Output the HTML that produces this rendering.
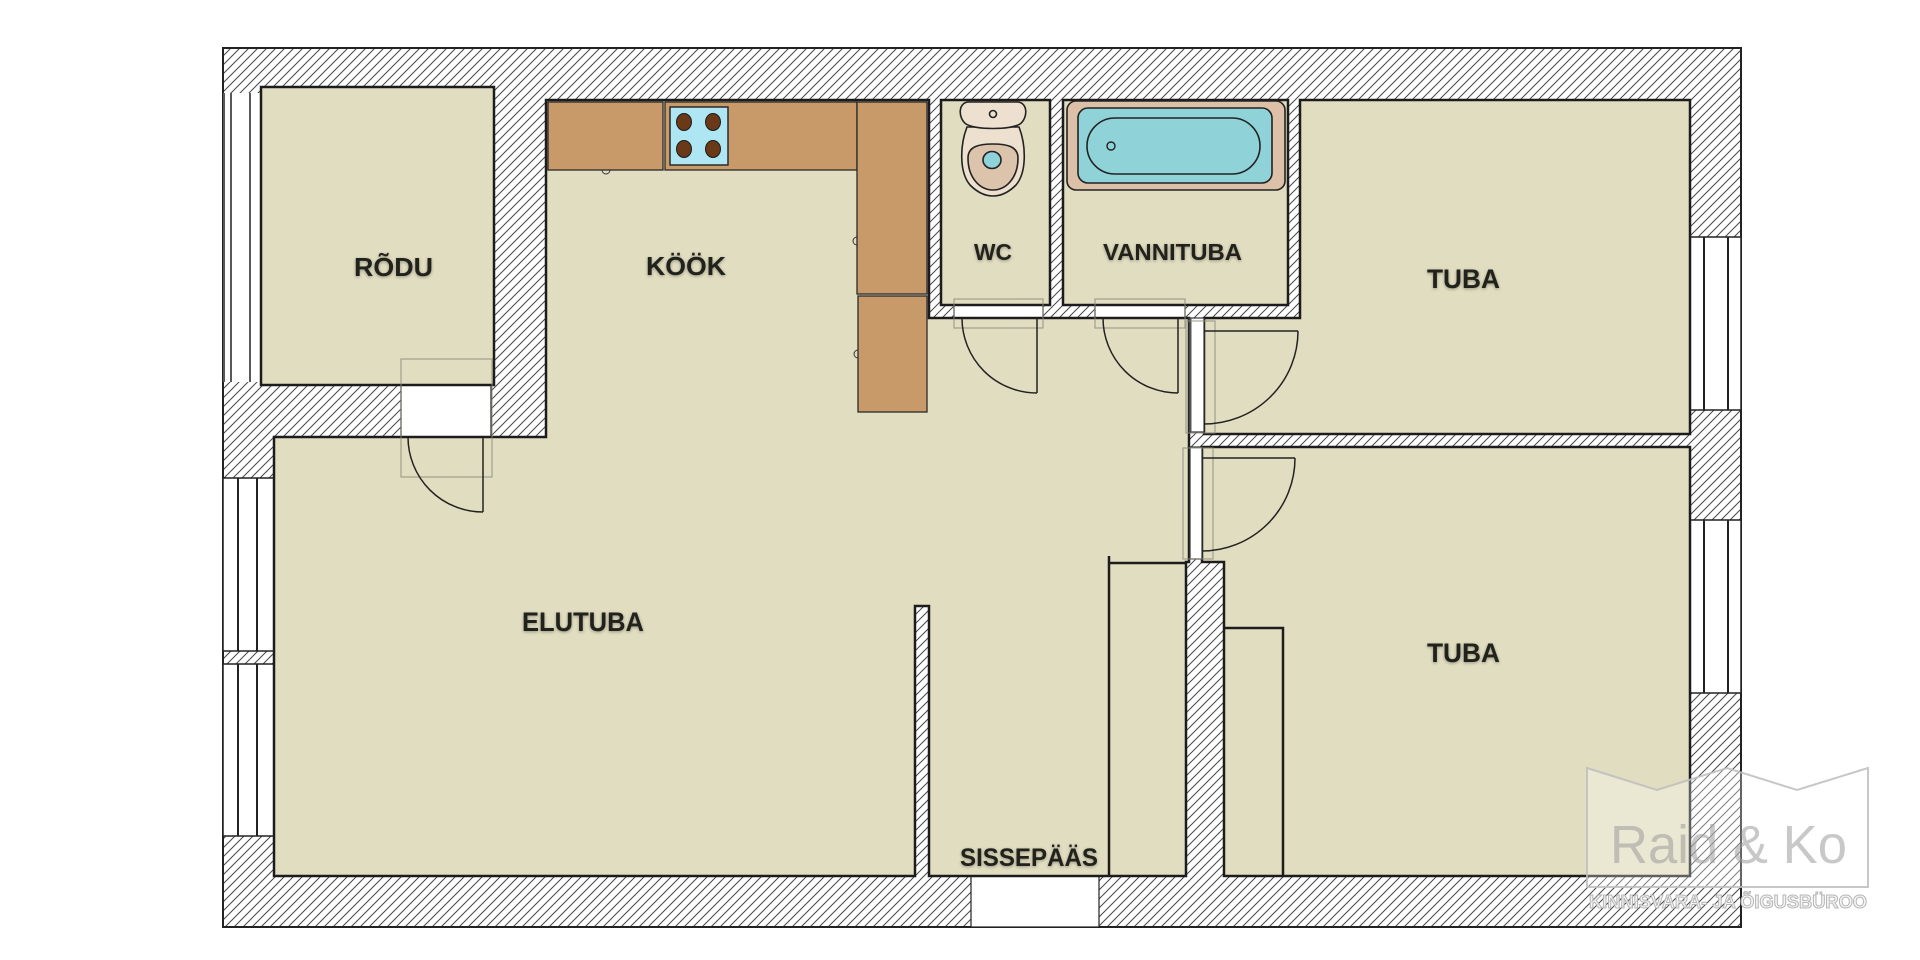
<!DOCTYPE html>
<html><head><meta charset="utf-8"><style>
html,body{margin:0;padding:0;background:#fff;}
svg{display:block;}
.lbl{font-family:"Liberation Sans",sans-serif;font-weight:bold;fill:#23231d;}
</style></head><body>
<svg width="1920" height="960" viewBox="0 0 1920 960" xmlns="http://www.w3.org/2000/svg">
<defs>
<pattern id="h" width="9" height="9" patternUnits="userSpaceOnUse">
<rect width="9" height="9" fill="#fff"/>
<path d="M-2,2 L2,-2 M0,9 L9,0 M7,11 L11,7" stroke="#474747" stroke-width="1"/>
</pattern>
<filter id="sh" x="-10%" y="-30%" width="120%" height="160%">
<feGaussianBlur in="SourceAlpha" stdDeviation="1.6"/>
<feOffset dx="0" dy="1" result="b"/>
<feComponentTransfer><feFuncA type="linear" slope="0.35"/></feComponentTransfer>
<feMerge><feMergeNode/><feMergeNode in="SourceGraphic"/></feMerge>
</filter>
</defs>

<!-- outer hatched shell -->
<rect x="223" y="48" width="1518" height="879" fill="url(#h)" stroke="#222" stroke-width="2"/>

<!-- windows -->
<rect x="223" y="93" width="38" height="289" fill="#fff"/>
<line x1="224" y1="93" x2="224" y2="382" stroke="#222" stroke-width="1.5"/>
<line x1="231" y1="93" x2="231" y2="382" stroke="#222" stroke-width="1.5"/>
<line x1="250" y1="93" x2="250" y2="382" stroke="#222" stroke-width="1.5"/>

<g fill="#fff" stroke="#222" stroke-width="1.5">
<rect x="223" y="478" width="51" height="173"/>
<rect x="223" y="664" width="51" height="172"/>
<rect x="1690" y="237" width="51" height="173"/>
<rect x="1690" y="520" width="51" height="173"/>
</g>
<g stroke="#222" stroke-width="2">
<line x1="238" y1="478" x2="238" y2="651"/><line x1="257" y1="478" x2="257" y2="651"/>
<line x1="238" y1="664" x2="238" y2="836"/><line x1="257" y1="664" x2="257" y2="836"/>
<line x1="1704" y1="237" x2="1704" y2="410"/><line x1="1728" y1="237" x2="1728" y2="410"/>
<line x1="1704" y1="520" x2="1704" y2="693"/><line x1="1728" y1="520" x2="1728" y2="693"/>
</g>

<!-- door openings (white) -->
<g fill="#fff" stroke="#222" stroke-width="1.2">
<rect x="401" y="385" width="90" height="52"/>
<rect x="954" y="305" width="89" height="13"/>
<rect x="1095" y="305" width="90" height="13"/>
<rect x="971" y="876" width="128" height="51"/>
</g>

<!-- rooms -->
<g fill="#e1ddc0" stroke="#1c1c1c" stroke-width="2.5" stroke-linejoin="miter">
<rect x="261" y="87" width="233" height="298"/>
<path d="M546,100 L929,100 L929,318 L1189,318 L1189,562 L1186,562 L1186,876 L929,876 L929,606 L915,606 L915,876 L274,876 L274,437 L546,437 Z"/>
<rect x="941" y="100" width="109" height="205"/>
<rect x="1063" y="100" width="225" height="205"/>
<path d="M1300,100 L1690,100 L1690,434 L1204,434 L1204,318 L1300,318 Z"/>
<path d="M1202,447 L1690,447 L1690,876 L1224,876 L1224,562 L1202,562 Z"/>
</g>

<!-- tuba door strips -->
<rect x="1189" y="318" width="15" height="114" fill="#fff" stroke="#333" stroke-width="1.2"/>
<line x1="1190.5" y1="318" x2="1190.5" y2="432" stroke="#555" stroke-width="2"/>
<rect x="1190" y="447" width="12" height="112" fill="#fff" stroke="#333" stroke-width="1.2"/>

<!-- door frames (thin gray) -->
<g fill="none" stroke="#8c8a7c" stroke-width="1.2" opacity="0.75">
<rect x="401" y="359" width="91" height="118"/>
<rect x="954" y="299" width="89" height="29"/>
<rect x="1095" y="299" width="90" height="29"/>
<rect x="1186" y="321" width="29" height="112"/>
<rect x="1183" y="448" width="30" height="111"/>
</g>

<!-- door leaves and swings -->
<g fill="none" stroke="#222" stroke-width="1.5">
<line x1="483" y1="437" x2="483" y2="512"/>
<path d="M408,437 A75,75 0 0 0 483,512"/>
<line x1="1037" y1="318" x2="1037" y2="393"/>
<path d="M962,318 A75,75 0 0 0 1037,393"/>
<line x1="1178" y1="318" x2="1178" y2="393"/>
<path d="M1103,318 A75,75 0 0 0 1178,393"/>
<line x1="1204" y1="331" x2="1298" y2="331"/>
<path d="M1298,331 A94,93 0 0 1 1204,424"/>
<line x1="1202" y1="458" x2="1295" y2="458"/>
<path d="M1295,458 A93,93 0 0 1 1202,551"/>
</g>

<!-- closets -->
<g fill="none" stroke="#1c1c1c" stroke-width="2.5">
<path d="M1109,556 L1109,876"/>
<path d="M1109,563 L1186,563"/>
<path d="M1224,628 L1283,628 L1283,876"/>
</g>

<!-- kitchen -->
<g fill="#c89a6a" stroke="#2a2a2a" stroke-width="1.3">
<rect x="548" y="102" width="115" height="68"/>
<rect x="665" y="102" width="192" height="68"/>
<rect x="857" y="102" width="70" height="192"/>
<rect x="858" y="296" width="69" height="116"/>
</g>
<g fill="none" stroke="#333" stroke-width="1">
<path d="M602,170 A4,4 0 0 0 610,170"/>
<path d="M857,237 A4,4 0 0 0 857,245"/>
<path d="M858,350 A4,4 0 0 0 858,358"/>
</g>
<rect x="670" y="107" width="58" height="58" fill="#aee6f4" stroke="#2a2a2a" stroke-width="1.5"/>
<g fill="#6a3a18" stroke="#1c1c1c" stroke-width="1">
<ellipse cx="684" cy="122" rx="7.5" ry="8.5"/>
<ellipse cx="713" cy="122" rx="7.5" ry="8.5"/>
<ellipse cx="684" cy="149" rx="7.5" ry="8.5"/>
<ellipse cx="713" cy="149" rx="7.5" ry="8.5"/>
</g>

<!-- toilet -->
<g stroke="#222" stroke-width="1.6">
<path d="M967,127 C960,145 959,172 970,185 C978,193 986,196 993,196 C1000,196 1008,193 1016,185 C1027,172 1026,145 1019,127 Z" fill="#ede0cf"/>
<path d="M968,102 L1018,102 C1028,103 1028,118 1020,124 C1010,130 976,130 966,124 C958,118 958,103 968,102 Z" fill="#ede0cf"/>
<circle cx="993" cy="114" r="3.5" fill="#ede0cf"/>
<path d="M968,158 C968,146 980,144 993,144 C1006,144 1018,146 1018,158 C1018,178 1006,190 993,190 C980,190 968,178 968,158 Z" fill="#dcc4ac"/>
<ellipse cx="992" cy="160" rx="9" ry="8.5" fill="#8fd3da"/>
</g>

<!-- bathtub -->
<rect x="1067" y="101" width="218" height="89" rx="9" fill="#dcc0a8" stroke="#222" stroke-width="1.6"/>
<rect x="1078" y="108" width="194" height="75" rx="10" fill="#8fd3d9" stroke="#222" stroke-width="1.6"/>
<rect x="1087" y="118" width="173" height="56" rx="28" fill="#8fd3d9" stroke="#222" stroke-width="1.6"/>
<circle cx="1111" cy="146" r="4" fill="#8fd3d9" stroke="#222" stroke-width="1.4"/>

<!-- labels -->
<g class="lbl" filter="url(#sh)">
<text x="354" y="276" font-size="26" textLength="79" lengthAdjust="spacingAndGlyphs">RÕDU</text>
<text x="646" y="275" font-size="26" textLength="80" lengthAdjust="spacingAndGlyphs">KÖÖK</text>
<text x="974" y="260" font-size="23" textLength="38" lengthAdjust="spacingAndGlyphs">WC</text>
<text x="1103" y="260" font-size="23" textLength="139" lengthAdjust="spacingAndGlyphs">VANNITUBA</text>
<text x="1427" y="288" font-size="27" textLength="73" lengthAdjust="spacingAndGlyphs">TUBA</text>
<text x="1427" y="662" font-size="27" textLength="73" lengthAdjust="spacingAndGlyphs">TUBA</text>
<text x="522" y="631" font-size="27" textLength="122" lengthAdjust="spacingAndGlyphs">ELUTUBA</text>
<text x="960" y="866" font-size="25" textLength="138" lengthAdjust="spacingAndGlyphs">SISSEPÄÄS</text>
</g>

<!-- watermark -->
<path d="M1587,768 L1657,790 L1727,768 L1797,790 L1868,768 L1868,887 L1587,887 Z" fill="#fff" fill-opacity="0.3" stroke="#bdbdbd" stroke-opacity="0.85" stroke-width="2"/>
<text x="1610" y="863" font-family="Liberation Sans, sans-serif" font-size="54" fill="#9a9a9a" fill-opacity="0.55" textLength="237" lengthAdjust="spacingAndGlyphs">Raid &amp; Ko</text>
<text x="1589" y="908" font-family="Liberation Sans, sans-serif" font-weight="bold" font-size="18" fill="#f2f2f2" fill-opacity="0.8" stroke="#b5b5b5" stroke-width="1" textLength="278" lengthAdjust="spacingAndGlyphs">KINNISVARA- JA ÕIGUSBÜROO</text>
</svg>
</body></html>
